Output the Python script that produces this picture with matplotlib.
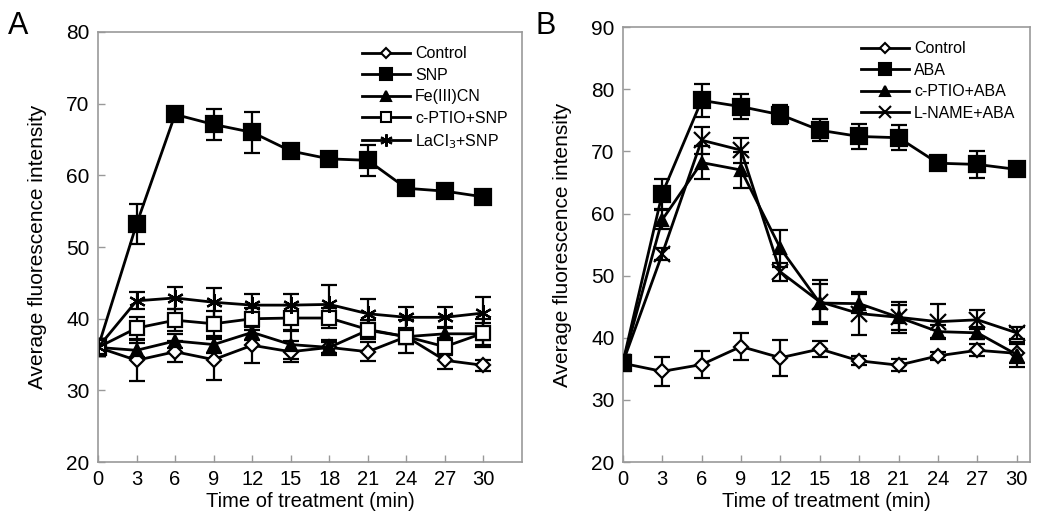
import numpy as np
import matplotlib
matplotlib.use('Agg')
import matplotlib.pyplot as plt
from matplotlib.lines import Line2D

plt.rcParams['font.family'] = ['Liberation Sans', 'DejaVu Sans']

time = [0, 3, 6, 9, 12, 15, 18, 21, 24, 27, 30]

# panel A
a_control = [36.0, 34.2, 35.4, 34.3, 36.3, 35.4, 36.0, 35.4, 37.5, 34.2, 33.5]
a_control_err = [1.2, 2.9, 1.5, 2.9, 2.5, 1.5, 0.8, 1.3, 1.0, 1.2, 0.8]
a_snp = [36.0, 53.2, 68.5, 67.1, 66.0, 63.4, 62.3, 62.1, 58.2, 57.8, 57.0]
a_snp_err = [1.2, 2.8, 0.8, 2.2, 2.9, 0.7, 0.8, 2.2, 0.6, 0.6, 0.6]
a_fe = [36.0, 35.6, 36.9, 36.4, 38.1, 36.4, 36.0, 38.4, 37.5, 37.9, 37.9]
a_fe_err = [1.2, 1.0, 1.0, 1.2, 1.0, 2.0, 1.0, 1.0, 1.0, 1.0, 1.5]
a_cptio = [36.0, 38.7, 39.8, 39.3, 40.0, 40.1, 40.1, 38.5, 37.5, 36.1, 38.0]
a_cptio_err = [1.2, 1.5, 1.5, 1.8, 1.5, 1.8, 1.4, 1.3, 2.3, 1.2, 2.0]
a_lacl = [36.0, 42.5, 42.9, 42.3, 41.9, 41.9, 42.0, 40.7, 40.2, 40.2, 40.8]
a_lacl_err = [1.2, 1.2, 1.5, 2.0, 1.5, 1.5, 2.7, 2.0, 1.5, 1.5, 2.2]

# panel B
b_control = [35.9, 34.6, 35.7, 38.6, 36.8, 38.2, 36.3, 35.6, 37.1, 38.0, 37.5]
b_control_err = [1.2, 2.3, 2.2, 2.2, 2.9, 1.3, 0.7, 1.0, 0.7, 1.0, 1.5]
b_aba = [36.0, 63.2, 78.2, 77.2, 75.9, 73.4, 72.4, 72.2, 68.1, 67.9, 67.1]
b_aba_err = [1.2, 2.4, 2.7, 2.0, 1.5, 1.8, 2.0, 2.0, 0.8, 2.2, 1.0]
b_cptio = [36.0, 59.0, 68.2, 67.0, 54.4, 45.6, 45.5, 43.3, 41.0, 40.8, 37.3]
b_cptio_err = [1.2, 1.5, 2.7, 2.9, 3.0, 3.0, 1.5, 2.0, 1.0, 1.0, 2.0]
b_lname = [36.0, 53.5, 71.8, 70.2, 50.6, 45.8, 43.9, 43.3, 42.6, 42.9, 40.8]
b_lname_err = [1.2, 1.0, 2.2, 2.0, 1.5, 3.5, 3.5, 2.5, 2.8, 1.5, 1.0]

fig = plt.figure(figsize=(10.45, 5.21), dpi=100)
axA = fig.add_axes([0.0938, 0.113, 0.4057, 0.8256])
axB = fig.add_axes([0.596, 0.113, 0.3896, 0.835])

style = dict(color='black', lw=2, elinewidth=1.6, capsize=6, capthick=1.6,
             markeredgewidth=1.6, markeredgecolor='black')


def draw(ax, y, err, marker, fill, label, ms=9, z=2):
    ax.errorbar(time, y, yerr=err, marker=marker, markersize=ms,
                markerfacecolor=fill, zorder=z, **style)
    return Line2D([], [], color='black', lw=2, marker=marker, markersize=ms * 0.75,
                  markerfacecolor=fill, markeredgecolor='black', markeredgewidth=1.5,
                  label=label)


hA = [draw(axA, a_control, a_control_err, 'D', 'white', 'Control', ms=7),
      draw(axA, a_snp, a_snp_err, 's', 'black', 'SNP', ms=11),
      draw(axA, a_fe, a_fe_err, '^', 'black', 'Fe(III)CN', ms=9),
      draw(axA, a_cptio, a_cptio_err, 's', 'white', 'c-PTIO+SNP', ms=10),
      draw(axA, a_lacl, a_lacl_err, (6, 2, 0), 'black', 'LaCl$_3$+SNP', ms=12)]

hB = [draw(axB, b_control, b_control_err, 'D', 'white', 'Control', ms=7),
      draw(axB, b_aba, b_aba_err, 's', 'black', 'ABA', ms=11, z=4),
      draw(axB, b_cptio, b_cptio_err, '^', 'black', 'c-PTIO+ABA', ms=9),
      draw(axB, b_lname, b_lname_err, 'x', 'black', 'L-NAME+ABA', ms=11)]

for ax, xmax, ylim, hs in [(axA, 33, (20, 80), hA), (axB, 31, (20, 90), hB)]:
    ax.set_xlim(0, xmax)
    ax.set_ylim(*ylim)
    ax.set_xticks(time)
    ax.set_xticklabels([str(t) for t in time], fontsize=14.5)
    ax.set_yticks(np.arange(ylim[0], ylim[1] + 1, 10))
    ax.tick_params(axis='y', labelsize=15)
    ax.tick_params(direction='in', length=5, color='#999999', width=1, pad=6)
    for s in ax.spines.values():
        s.set_color('#999999')
        s.set_linewidth(1.2)
    ax.set_xlabel('Time of treatment (min)', fontsize=14.5, labelpad=2)
    ax.set_ylabel('Average fluorescence intensity', fontsize=15, labelpad=14)
    ax.legend(handles=hs, loc='upper right', frameon=False, fontsize=11.5,
              handlelength=3.0, handletextpad=0.3, labelspacing=0.4,
              borderaxespad=0.5)

fig.text(0.008, 0.935, 'A', fontsize=22)
fig.text(0.512, 0.935, 'B', fontsize=22)

fig.savefig('out.png', dpi=100)
